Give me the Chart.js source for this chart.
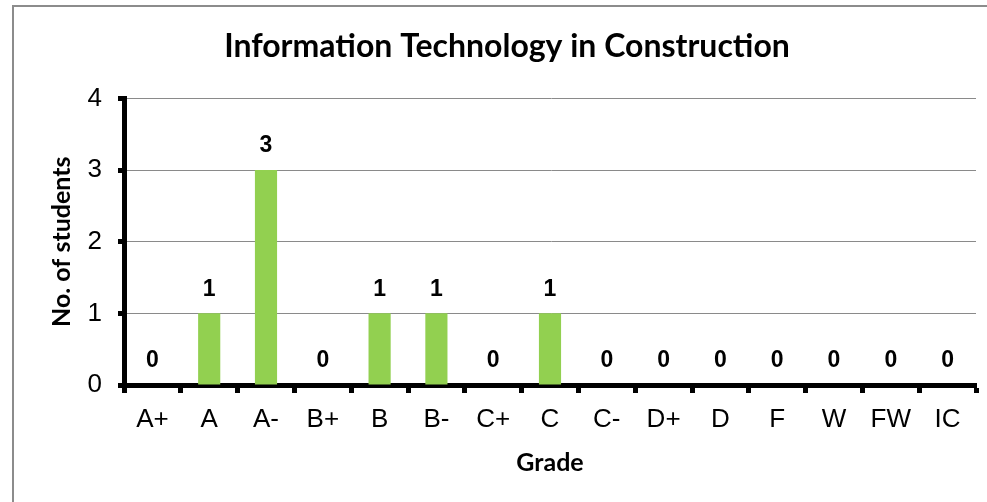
<!DOCTYPE html>
<html>
<head>
<meta charset="utf-8">
<script src="https://cdn.jsdelivr.net/npm/chart.js@4.4.0/dist/chart.umd.min.js"></script>
<style>
html,body{margin:0;padding:0;background:#fff;}
#wrap{width:987px;height:502px;position:relative;}
</style>
</head>
<body>
<div id="wrap"><canvas id="c" width="987" height="502"></canvas></div>
<script>
const categories = ["A+","A","A-","B+","B","B-","C+","C","C-","D+","D","F","W","FW","IC"];
const students = [0,1,3,0,1,1,0,1,0,0,0,0,0,0,0];
const yTicks = [0,1,2,3,4];

const framePlugin = {
  id: 'frame',
  beforeDraw(chart) {
    const ctx = chart.ctx;
    ctx.save();
    ctx.fillStyle = '#fff';
    ctx.fillRect(0,0,chart.width,chart.height);
    ctx.strokeStyle = '#8c8c8c';
    ctx.lineWidth = 2;
    ctx.strokeRect(13, 6, 1100, 700);
    ctx.restore();
  }
};

const labelPlugin = {
  id: 'barLabels',
  afterDatasetsDraw(chart) {
    const ctx = chart.ctx;
    const meta = chart.getDatasetMeta(0);
    ctx.save();
    ctx.font = 'bold 23px "Liberation Sans", Arial, sans-serif';
    ctx.fillStyle = '#000';
    ctx.textAlign = 'center';
    ctx.textBaseline = 'middle';
    meta.data.forEach((bar, i) => {
      ctx.fillText(String(students[i]), bar.x, bar.y - 24);
    });
    ctx.restore();
  }
};

new Chart(document.getElementById('c'), {
  type: 'bar',
  data: {
    labels: categories,
    datasets: [{
      data: students,
      backgroundColor: '#92D050',
      borderWidth: 0,
      barPercentage: 0.39,
      categoryPercentage: 1.0
    }]
  },
  options: {
    responsive: false,
    animation: false,
    devicePixelRatio: 1,
    layout: { padding: { left: 38, right: 11, top: 0, bottom: 0 } },
    plugins: {
      legend: { display: false },
      tooltip: { enabled: false },
      title: {
        display: true,
        text: 'Information Technology in Construction',
        color: '#000',
        font: { family: 'Lato', weight: 'bold', size: 32, lineHeight: 1.2 },
        padding: { top: 27, bottom: 33 }
      }
    },
    scales: {
      x: {
        afterFit(s) { s.height = 117; },
        grid: {
          offset: true,
          drawOnChartArea: false,
          color: '#000',
          tickColor: '#000',
          tickLength: 8,
          tickWidth: 5
        },
        border: { color: '#000', width: 5 },
        ticks: {
          color: '#000',
          padding: 11,
          font: { family: '"Liberation Sans", Arial, sans-serif', size: 26 }
        },
        title: {
          display: true,
          text: 'Grade',
          color: '#000',
          font: { family: 'Lato', weight: 'bold', size: 25, lineHeight: 1.2 },
          padding: { top: 0, bottom: 24 }
        }
      },
      y: {
        min: 0,
        max: 4,
        afterFit(s) { s.width = 86; },
        afterBuildTicks(s) { s.ticks = yTicks.map(v => ({ value: v })); },
        grid: {
          color: '#8a8a8a',
          lineWidth: 1,
          tickColor: '#000',
          tickLength: 6,
          tickWidth: 5
        },
        border: { color: '#000', width: 5 },
        ticks: {
          color: '#000',
          padding: 16,
          font: { family: '"Liberation Sans", Arial, sans-serif', size: 26 }
        },
        title: {
          display: true,
          text: 'No. of students',
          color: '#000',
          font: { family: 'Lato', weight: 'bold', size: 25, lineHeight: 1.2 },
          padding: { top: 9, bottom: 0 }
        }
      }
    }
  },
  plugins: [framePlugin, labelPlugin]
});
</script>
</body>
</html>
